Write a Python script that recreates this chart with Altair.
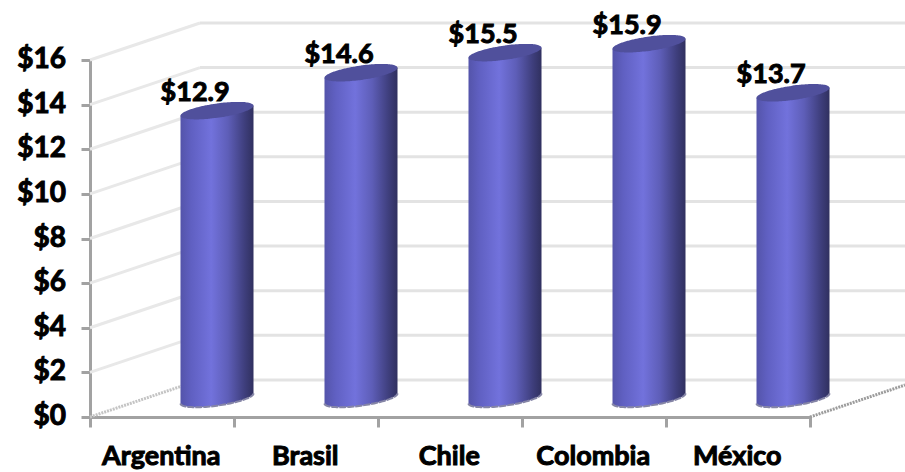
import altair as alt
import numpy as np
import pandas as pd

countries = ["Argentina", "Brasil", "Chile", "Colombia", "México"]
values = [12.9, 14.6, 15.5, 15.9, 13.7]
y_ticks = [0, 2, 4, 6, 8, 10, 12, 14, 16]

# Plot scale: one category is 144 px wide, one dollar is 22.3 px tall
X_PX = 144.0
Y_PX = 22.3
DEPTH_X = 110 / X_PX
DEPTH_Y = 37 / Y_PX
CYL_X = 55 / X_PX
CYL_Y = 18.5 / Y_PX
RADIUS_X = 36.5 / X_PX
RADIUS_Y = 7.2 / Y_PX
SHEAR = (5.0 / Y_PX) / RADIUS_X
RIGHT_EDGE = 815 / X_PX

font = "Lato"
GRID = "#e3e3e3"
AXIS = "#a2a2a2"

x_scale = alt.Scale(domain=[0, 5], nice=False, zero=False)
y_scale = alt.Scale(domain=[0, 16], nice=False, zero=False)

# Every layer shares the same axis definitions so that they merge into one pair
axis_style = dict(domainColor=AXIS, domainWidth=3, tickColor=AXIS, tickWidth=3,
                  labels=False, title=None, grid=False)
x_axis = alt.Axis(values=list(range(6)), tickSize=10, **axis_style)
y_axis = alt.Axis(values=y_ticks, tickSize=9, **axis_style)
X = lambda f: alt.X(f, type="quantitative", scale=x_scale, axis=x_axis)
Y = lambda f: alt.Y(f, type="quantitative", scale=y_scale, axis=y_axis)

# Walls: diagonals on the left wall and horizontal lines on the back wall
walls = pd.DataFrame({"v": y_ticks})
walls["x0"] = 0.0
walls["x1"] = DEPTH_X
walls["x2"] = RIGHT_EDGE
walls["yb"] = walls["v"] + DEPTH_Y

diag = alt.Chart(walls[walls.v > 0]).mark_rule(color="#e8e8e8", strokeWidth=3).encode(
    x=X("x0"), x2="x1", y=Y("v"), y2="yb")
back = alt.Chart(walls).mark_rule(color=GRID, strokeWidth=3).encode(
    x=X("x1"), x2="x2", y=Y("yb"), y2="yb")

floor = pd.DataFrame({
    "x0": [0.0, 5.0],
    "x1": [DEPTH_X, RIGHT_EDGE],
    "y0": [0.0, 0.0],
    "y1": [DEPTH_Y, (RIGHT_EDGE - 5.0) / DEPTH_X * DEPTH_Y],
    "c": ["#c4c4c4", "#9c9c9c"],
})
floor_lines = alt.Chart(floor).mark_rule(strokeWidth=3, strokeDash=[2, 1]).encode(
    x=X("x0"), x2="x1", y=Y("y0"), y2="y1", color=alt.Color("c:N", scale=None))

# Cylinder outlines, sheared so that the ellipses lean as in a 3-D view
theta = np.linspace(np.pi, 0, 61)
rows_body, rows_top = [], []
for i, (name, v) in enumerate(zip(countries, values)):
    cx = i + 0.5 + CYL_X
    for t in theta:
        dx = RADIUS_X * np.cos(t)
        arc = RADIUS_Y * np.sin(t)
        lean = SHEAR * dx
        rows_body.append({"country": name, "x": cx + dx,
                          "low": CYL_Y + lean - arc, "high": v + CYL_Y + lean})
        rows_top.append({"country": name, "x": cx + dx,
                         "low": v + CYL_Y + lean - arc, "high": v + CYL_Y + lean + arc})
body_df = pd.DataFrame(rows_body)
top_df = pd.DataFrame(rows_top)

side_gradient = alt.LinearGradient(
    gradient="linear", x1=0, x2=1, y1=0, y2=0,
    stops=[
        alt.GradientStop(offset=0, color="#5454aa"),
        alt.GradientStop(offset=0.15, color="#6060c2"),
        alt.GradientStop(offset=0.42, color="#7272dc"),
        alt.GradientStop(offset=0.65, color="#5e5eb8"),
        alt.GradientStop(offset=0.88, color="#3e3e7c"),
        alt.GradientStop(offset=1, color="#30305f"),
    ],
)

body = alt.Chart(body_df).mark_area(fill=side_gradient, interpolate="monotone").encode(
    x=X("x"), y=Y("low"), y2="high", detail="country:N")
base_edge = alt.Chart(body_df).mark_line(color="#8585a6", strokeWidth=2, strokeDash=[7, 1]).encode(
    x=X("x"), y=Y("low"), detail="country:N")
top = alt.Chart(top_df).mark_area(color="#50509c", interpolate="monotone").encode(
    x=X("x"), y=Y("low"), y2="high", detail="country:N")

text_style = dict(font=font, fontWeight="bold", color="black", stroke="black", strokeWidth=1)

label_df = pd.DataFrame({
    "x": [i + 0.5 + 0.23 for i in range(5)],
    "v": values,
    "t": [f"${v:.1f}" for v in values],
})
value_labels = alt.Chart(label_df).mark_text(fontSize=27, dy=-36, **text_style).encode(
    x=X("x"), y=Y("v"), text="t:N")

y_label_df = pd.DataFrame({"x": [0.0] * len(y_ticks), "v": y_ticks, "t": [f"${v}" for v in y_ticks]})
y_labels = alt.Chart(y_label_df).mark_text(fontSize=28, align="right", dx=-24, **text_style).encode(
    x=X("x"), y=Y("v"), text="t:N")

x_label_df = pd.DataFrame({"x": [i + 0.5 - 0.005 for i in range(5)], "v": [0.0] * 5, "t": countries})
x_labels = alt.Chart(x_label_df).mark_text(fontSize=27, baseline="alphabetic", dy=48, **text_style).encode(
    x=X("x"), y=Y("v"), text="t:N")

chart = alt.layer(
    diag, back, floor_lines, body, base_edge, top, value_labels, y_labels, x_labels
).properties(
    width=720,
    height=357,
    padding={"left": 90, "top": 60, "right": 95, "bottom": 55},
    autosize=alt.AutoSizeParams(type="none"),
    background="white",
).configure_view(stroke=None)

chart.save("out.html", embed_options={"renderer": "svg", "actions": False})
